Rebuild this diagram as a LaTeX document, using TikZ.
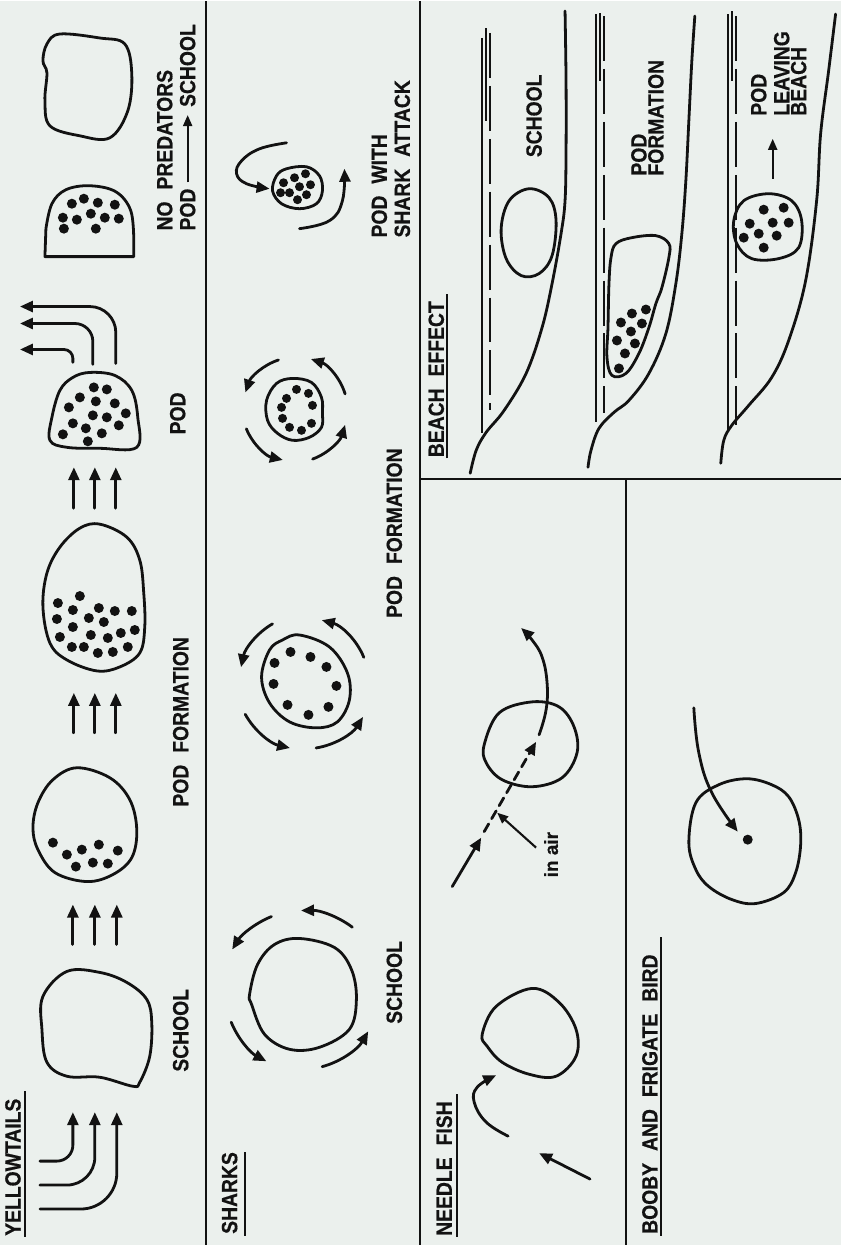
\documentclass[tikz,border=0pt]{standalone}
\usepackage{fontspec}
\newfontfamily\lab{Liberation Sans}[FakeStretch=0.88, FakeBold=0.6]
\newfontfamily\labn{Liberation Sans}[FakeBold=0.6]
\usetikzlibrary{arrows.meta,calc}
\definecolor{bgc}{HTML}{EBF0ED}
\definecolor{ink}{HTML}{121212}
\tikzset{
  ln/.style={line width=2.8pt, line join=round, line cap=round, draw=ink},
  thinln/.style={line width=1.9pt, draw=ink},
  sepln/.style={line width=2.1pt, draw=ink},
  arr/.style={ln, -{Triangle[length=13pt,width=11pt]}},
  sarr/.style={line width=2.1pt, draw=ink, -{Triangle[length=11pt,width=9pt]}},
  lbl/.style={rotate=90, inner sep=0pt, text=ink, font=\lab\bfseries\fontsize{22}{24}\selectfont},
  blob/.style={ln, smooth cycle, tension=0.6},
}
\newcommand{\wg}{\hspace{12pt}}
\begin{document}
\begin{tikzpicture}[x=1pt,y=-1pt]
\fill[bgc] (0,0) rectangle (842,1246);
% separators
\draw[sepln] (206,0) -- (206,1246);
\draw[sepln] (421,0) -- (421,1246);
\draw[sepln] (421,479) -- (842,479);
\draw[sepln] (627,479) -- (627,1246);

% ================= YELLOWTAILS =================
\node[lbl, anchor=west] (yt) at (13,1237) {YELLOWTAILS};
\draw[sepln] (25,1238) -- (25,1092);
\draw[arr, rounded corners=16pt] (40,1162) -- (73,1162) -- (73,1113);
\draw[arr, rounded corners=28pt] (40,1186) -- (95,1186) -- (95,1113);
\draw[arr, rounded corners=36pt] (40,1210) -- (117,1210) -- (117,1113);
\draw[blob] plot coordinates {(67,972)(100,973)(127,983)(147,1000)(152,1023)(150,1057)(140,1083)(133,1087)(100,1078)(67,1077)(47,1063)(42,1030)(43,997)};
\node[lbl] (ytschool) at (181,1031) {SCHOOL};
\foreach \xx in {73,95,117} \draw[arr] (\xx,945) -- (\xx,905);
\draw[blob] plot coordinates {(77,768)(110,778)(130,800)(137,830)(132,858)(113,875)(87,882)(55,873)(38,850)(33,828)(38,803)(53,780)};
\foreach \p in {(53,843),(67,855),(82,850),(99,845),(118,851),(76,867),(93,863),(108,864)} \fill[ink] \p circle[radius=5];
\foreach \xx in {74,95,116} \draw[arr] (\xx,733) -- (\xx,693);
\draw[blob] plot coordinates {(100,524)(127,537)(140,560)(144,593)(145,627)(140,653)(120,667)(97,671)(67,660)(50,643)(43,607)(47,573)(60,547)(80,528)};
\foreach \p in {(58,603),(80,596),(73,610),(99,608),(115,611),(132,611),(57,619),(89,618),(104,622),(73,627),(135,630),(60,637),(91,635),(108,638),(121,633),(72,647),(84,647),(98,653),(113,652),(128,647)} \fill[ink] \p circle[radius=5];
\node[lbl] (ytpf) at (181,722) {POD\wg FORMATION};
\foreach \xx in {74,95,116} \draw[arr] (\xx,508) -- (\xx,467);
\draw[blob] plot coordinates {(90,372)(115,375)(132,390)(138,417)(137,447)(100,448)(67,447)(50,440)(52,417)(60,390)(73,377)};
\foreach \p in {(94,387),(107,389),(80,397),(96,401),(115,403),(69,407),(93,415),(107,417),(126,413),(73,423),(86,428),(119,425),(63,434),(102,433),(88,441)} \fill[ink] \p circle[radius=5];
\node[lbl] (ytpod) at (178,413) {POD};
\draw[arr, rounded corners=9pt] (73,362) -- (73,349) -- (20,349);
\draw[arr, rounded corners=18pt] (93,364) -- (93,323) -- (20,323);
\draw[arr, rounded corners=26pt] (116,363) -- (116,306) -- (20,306);
\draw[ln] (45,256) -- (134,256) -- plot[smooth, tension=0.6] coordinates {(134,240)(131,210)(116,191)(90,185)(66,189)(52,203)(46,228)} -- cycle;
\foreach \p in {(72,203),(84,198),(98,202),(115,204),(63,217),(77,219),(91,213),(105,217),(119,218),(64,228),(96,228)} \fill[ink] \p circle[radius=5];
\draw[blob] plot coordinates {(60,33)(100,37)(125,43)(132,73)(128,110)(110,137)(80,135)(50,125)(45,100)(47,72)(43,60)(47,43)};
\node[lbl, anchor=west] (nopred) at (165,230) {NO\wg PREDATORS};
\node[lbl, anchor=west] (podl) at (188,230) {POD};
\node[lbl, anchor=east] (schl) at (188,23) {SCHOOL};
\draw[sarr] (podl.east) ++(0,-6) -- ($(schl.west)+(0,8)$);

% ================= SHARKS =================
\node[lbl, anchor=west] (sharks) at (230,1235) {SHARKS};
\draw[sepln] (245,1237) -- (245,1153);
\draw[blob] plot coordinates {(300,939)(335,948)(352,970)(357,1000)(350,1030)(320,1048)(290,1050)(265,1035)(252,1005)(250,995)(258,965)(275,945)};
\coordinate (c1) at (303,994);
\draw[arr] ($(c1)+(248:83)$) arc[start angle=248, end angle=212, radius=83];
\draw[arr] ($(c1)+(307:83)$) arc[start angle=307, end angle=269, radius=83];
\draw[arr] ($(c1)+(158:77)$) arc[start angle=158, end angle=118, radius=77];
\draw[arr] ($(c1)+(75:76)$) arc[start angle=75, end angle=30, radius=76];
\node[lbl] (shschool) at (395,983) {SCHOOL};

\draw[blob] plot coordinates {(300,635)(330,647)(348,673)(350,700)(338,722)(317,728)(290,722)(270,703)(262,677)(270,650)(283,640)};
\foreach \p in {(275,663),(291,652),(311,657),(327,667),(337,686),(329,707),(309,715),(288,705),(274,684)} \fill[ink] \p circle[radius=5];
\coordinate (c2) at (306,681);
\draw[arr] ($(c2)+(240:66)$) arc[start angle=240, end angle=192, radius=66];
\draw[arr] ($(c2)+(338:63)$) arc[start angle=338, end angle=285, radius=63];
\draw[arr] ($(c2)+(151:69)$) arc[start angle=151, end angle=103, radius=69];
\draw[arr] ($(c2)+(81:68)$) arc[start angle=81, end angle=32, radius=68];
\node[lbl] (shpf) at (395,533) {POD\wg FORMATION};

\draw[blob] plot coordinates {(267,400)(277,383)(293,378)(312,382)(322,397)(323,413)(322,427)(310,437)(293,440)(278,433)(268,420)};
\foreach \p in {(287,398),(297,389),(309,393),(282,407),(313,405),(283,418),(290,427),(302,430),(312,423)} \fill[ink] \p circle[radius=4.5];
\coordinate (c3) at (295,409);
\draw[arr] ($(c3)+(252:52)$) arc[start angle=252, end angle=199, radius=52];
\draw[arr] ($(c3)+(343:53)$) arc[start angle=343, end angle=288, radius=53];
\draw[arr] ($(c3)+(158:52)$) arc[start angle=158, end angle=103, radius=52];
\draw[arr] ($(c3)+(70:53)$) arc[start angle=70, end angle=17, radius=53];

\draw[blob] plot coordinates {(287,168)(307,166)(320,175)(323,190)(317,203)(300,208)(282,203)(273,190)(277,175)};
\foreach \p in {(284,182),(295,177),(306,173),(311,184),(300,186),(290,192),(307,194),(298,199),(281,192)} \fill[ink] \p circle[radius=4.5];
\draw[arr] plot[smooth, tension=0.7] coordinates {(287,142)(260,148)(242,160)(237,173)(247,183)(270,188)};
\draw[arr] plot[smooth, tension=0.7] coordinates {(300,228)(330,220)(343,200)(345,168)};
\node[lbl, anchor=west] (podwith) at (380,237) {POD\wg WITH};
\node[lbl, anchor=west] (sattack) at (403,237) {SHARK\wg ATTACK};

% ================= NEEDLE FISH =================
\node[lbl, anchor=west] (needle) at (445,1237) {NEEDLE\wg FISH};
\draw[sepln] (458,1238) -- (458,1095);
\draw[blob] plot coordinates {(483,1035)(497,1007)(533,989)(560,1003)(577,1030)(577,1057)(557,1077)(530,1075)(503,1063)(488,1047)};
\draw[arr] plot[smooth, tension=0.7] coordinates {(509,1137)(487,1123)(475,1103)(478,1088)(497,1076)};
\draw[arr] (591,1180) -- (540,1154);
\draw[blob] plot coordinates {(485,745)(500,713)(533,702)(560,707)(575,727)(578,753)(563,778)(533,787)(503,780)(487,763)};
\draw[arr] (453,887) -- (482,838);
\draw[arr, dash pattern=on 9pt off 6pt] (485,832) -- (537,742);
\draw[arr] plot[smooth, tension=0.7] coordinates {(540,735)(547,710)(548,683)(543,657)(533,640)(522,628)};
\draw[sarr] (537,848) -- (498,813);
\node[rotate=90, inner sep=0pt, text=ink, font=\labn\bfseries\fontsize{19}{21}\selectfont] (inair) at (552,855) {in air};

% ================= BOOBY =================
\node[lbl, anchor=west] (booby) at (651,1235) {BOOBY\wg AND\wg FRIGATE\wg BIRD};
\draw[sepln] (662,1237) -- (662,938);
\draw[blob] plot coordinates {(690,843)(697,803)(720,785)(748,779)(773,785)(790,797)(800,820)(802,845)(797,873)(785,893)(757,904)(733,900)(710,887)(697,870)};
\draw[arr] plot[smooth, tension=0.7] coordinates {(695,708)(700,753)(713,793)(739,832)};
\fill[ink] (749,840) circle[radius=5];

% ================= BEACH EFFECT =================
\node[lbl, anchor=west] (beach) at (437,457) {BEACH\wg EFFECT};
\draw[sepln] (448,458) -- (448,293);
% strip 1
\draw[thinln] (483,37) -- (483,433);
\draw[thinln] (487,27) -- (487,120);
\draw[thinln, dash pattern=on 45pt off 8pt] (491,32) -- (491,410);
\draw[ln] plot[smooth, tension=0.6] coordinates {(471,473)(477,450)(487,432)(505,410)(527,373)(543,327)(553,283)(562,233)(566,200)(567,150)(567,80)(566,10)};
\draw[blob] plot coordinates {(530,188)(550,197)(557,220)(553,255)(540,273)(522,275)(507,258)(502,228)(510,200)};
\node[lbl] (bschool) at (535,115) {SCHOOL};
% strip 2
\draw[thinln] (597,13) -- (597,422);
\draw[thinln] (601,12) -- (601,80);
\draw[thinln, dash pattern=on 45pt off 8pt] (605,15) -- (605,413);
\draw[ln] plot[smooth, tension=0.6] coordinates {(589,467)(592,450)(600,428)(615,412)(630,400)(650,373)(667,333)(677,283)(683,233)(687,180)(690,120)(693,60)(696,15)};
\draw[blob] plot coordinates {(617,243)(633,237)(657,235)(670,243)(670,257)(663,287)(657,303)(650,327)(640,353)(627,373)(613,375)(608,357)(609,327)(610,283)(612,257)};
\foreach \p in {(647,309),(633,313),(622,322),(643,323),(632,331),(618,340),(636,343),(626,353),(620,368)} \fill[ink] \p circle[radius=5];
\node[lbl, anchor=west] (bpod) at (640,175) {POD};
\node[lbl, anchor=west] (bform) at (657,175) {FORMATION};
% strip 3
\draw[thinln] (729,13) -- (729,430);
\draw[thinln] (733,10) -- (733,80);
\draw[thinln, dash pattern=on 45pt off 8pt] (737,15) -- (737,425);
\draw[ln] plot[smooth, tension=0.6] coordinates {(722,463)(725,440)(733,425)(750,405)(773,377)(790,340)(807,280)(818,200)(822,133)(830,70)(837,13)};
\draw[blob] plot coordinates {(770,193)(793,200)(803,220)(800,247)(780,258)(753,258)(738,243)(735,220)(745,200)};
\foreach \p in {(765,209),(785,207),(774,222),(751,223),(790,222),(760,233),(778,235),(745,237),(765,247)} \fill[ink] \p circle[radius=5];
\draw[sarr] (774,178) -- (774,138);
\node[lbl, anchor=west] (lpod) at (760,115) {POD};
\node[lbl, anchor=west] (lleav) at (783,115) {LEAVING};
\node[lbl, anchor=west] (lbeach) at (800,115) {BEACH};
\end{tikzpicture}
\end{document}
